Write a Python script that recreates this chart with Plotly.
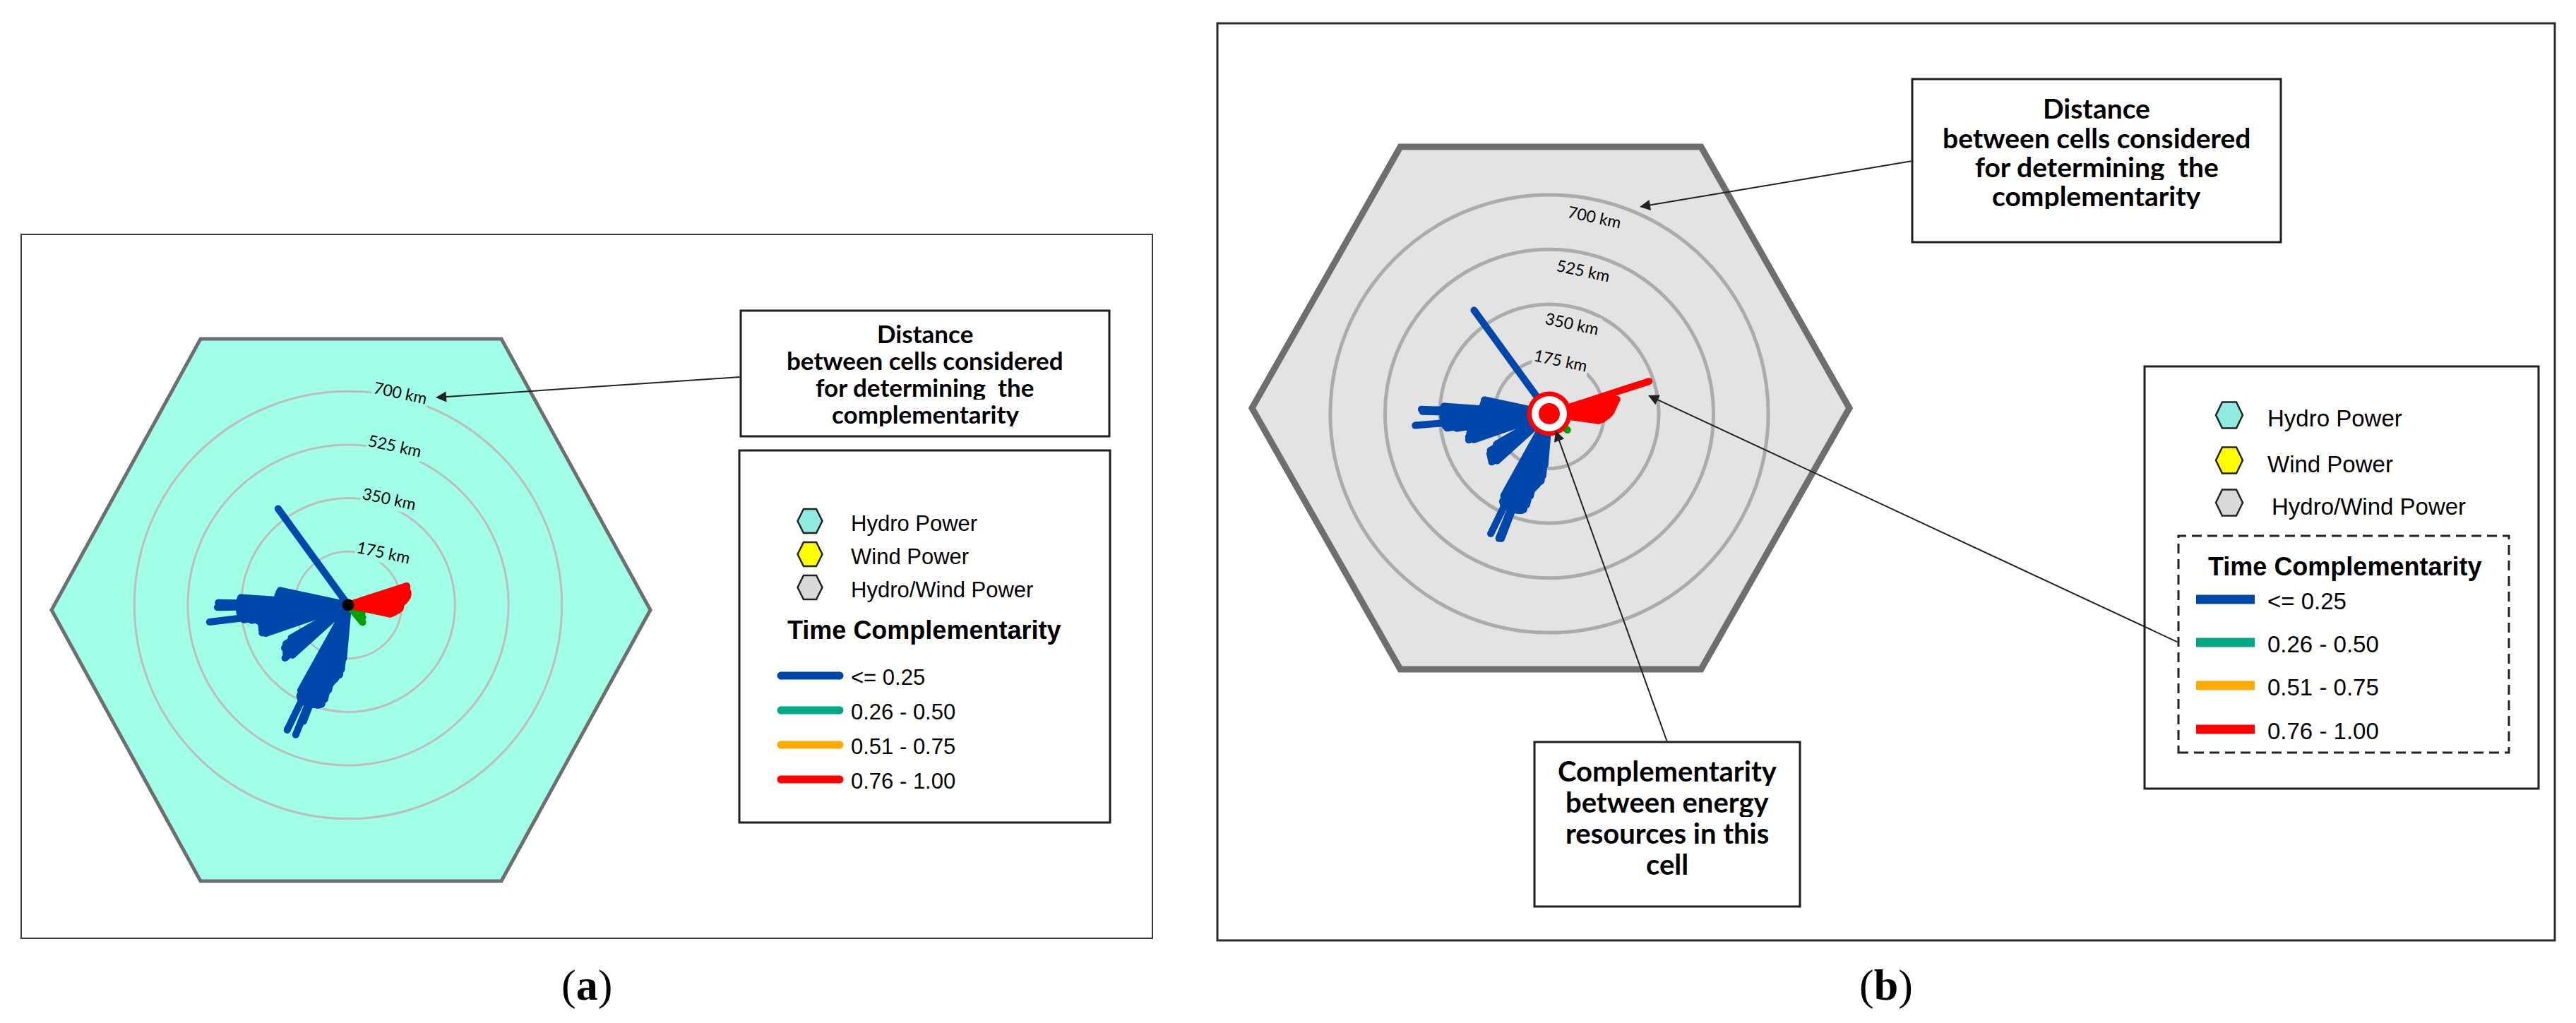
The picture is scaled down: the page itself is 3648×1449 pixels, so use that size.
import math
import plotly.graph_objects as go

W, H = 3648, 1449

# distance rings (km)
ring_km = [175, 350, 525, 700]
ring_text = ["175 km", "350 km", "525 km", "700 km"]

# spokes with time complementarity <= 0.25 (direction in degrees, distance in km)
blue_theta = [126,
              168, 170, 172, 174, 176, 177, 178, 179, 180, 181, 182, 183, 184, 185, 186, 187,
              188, 189, 190, 191, 192, 194, 196, 198, 199,
              210, 212, 214, 216, 218, 220, 222,
              241, 242, 243, 244, 245, 246, 247, 248, 249, 250, 251, 252, 253, 254, 255, 256,
              257, 258, 259, 260, 261, 262, 263, 264, 265]
blue_km_a = [390,
             228, 230, 232, 233, 352, 354, 356, 425, 356, 428, 356, 356, 356, 354, 350, 457,
             345, 320, 300, 292, 292, 292, 294, 296, 285,
             215, 240, 251, 252, 258, 270, 245,
             320, 337, 343, 455, 346, 348, 350, 458, 408, 348, 345, 344, 343, 340, 336, 318,
             286, 260, 252, 246, 238, 233, 230, 212, 175]
blue_km_b = [409,
             212, 212, 213, 215, 338, 338, 409, 405, 340, 340, 340, 338, 336, 430, 336, 334,
             330, 300, 262, 258, 258, 262, 268, 271, 255,
             195, 222, 229, 232, 236, 240, 225,
             300, 318, 324, 427, 326, 328, 330, 430, 428, 328, 326, 325, 324, 322, 318, 300,
             270, 245, 238, 232, 225, 220, 217, 200, 165]

# spokes with time complementarity 0.76 - 1.00
red_theta_a = [-12, -10, -8, -6, -4, -2, 0, 2, 4, 6, 8, 10, 12, 14, 16, 18]
red_km_a = [142, 150, 156, 164, 170, 172, 172, 176, 184, 190, 196, 199, 200, 198, 200, 202]
red_theta_b = [-8, -6, -4, -2, 0, 2, 4, 6, 8, 10, 12, 14, 16, 18]
red_km_b = [160, 171, 178, 186, 193, 198, 202, 206, 210, 215, 221, 210, 205, 335]

# short green spokes
green_theta_a = [-28, -40, -50]
green_km_a = [52, 62, 74]
green_theta_b = [-42]
green_km_b = [78]

distance_note = ["Distance", "between cells considered", "for determining&nbsp; the", "complementarity"]
cell_note = ["Complementarity", "between energy", "resources in this", "cell"]

cell_labels = ["Hydro Power", "Wind Power", "Hydro/Wind Power"]
cell_colors = ["#8FEBE0", "#FFFF00", "#D9D9D9"]
class_labels = ["&lt;= 0.25", "0.26 - 0.50", "0.51 - 0.75", "0.76 - 1.00"]
class_colors = ["#0047AB", "#00A884", "#FFAA00", "#FF0000"]

BLUE, RED, GREEN = "#0047AB", "#FF0000", "#00A000"
R_MAX = 750
A_CENTER, A_PXKM = (493, 857), 0.4325
B_CENTER, B_PXKM = (2194, 586), 0.443
A_FILL, B_FILL = "#A0FFE6", "#E3E3E3"


def X(px):
    return px / W


def Y(py):
    return 1 - py / H


def domain(center, pxkm):
    half = R_MAX * pxkm
    cx, cy = center
    return dict(x=[X(cx - half), X(cx + half)], y=[Y(cy + half), Y(cy - half)])


def polar_layout(center, pxkm, gridcolor, gridwidth):
    return dict(
        domain=domain(center, pxkm),
        bgcolor="rgba(0,0,0,0)",
        radialaxis=dict(range=[0, R_MAX], tickvals=ring_km, showticklabels=False, ticks="",
                        showline=False, gridcolor=gridcolor, gridwidth=gridwidth),
        angularaxis=dict(showgrid=False, showline=False, showticklabels=False, ticks="",
                         rotation=0, direction="counterclockwise"),
    )


def spokes(theta, km, color, subplot, width=10):
    r, t = [], []
    for a, d in zip(theta, km):
        r += [0, d, None]
        t += [a, a, None]
    return [
        go.Scatterpolar(r=r, theta=t, mode="lines", line=dict(color=color, width=width),
                        subplot=subplot, hoverinfo="skip"),
        go.Scatterpolar(r=km, theta=theta, mode="markers",
                        marker=dict(color=color, size=width, opacity=1, line=dict(width=0)),
                        subplot=subplot, hoverinfo="skip"),
    ]


def dot(size, color, subplot):
    return go.Scatterpolar(r=[0], theta=[0], mode="markers",
                           marker=dict(size=size, color=color, opacity=1, line=dict(width=0)),
                           subplot=subplot, hoverinfo="skip")


def hexagon(cx, cy, hw, hh, edge):
    pts = [(cx - hw, cy), (cx - edge, cy - hh), (cx + edge, cy - hh),
           (cx + hw, cy), (cx + edge, cy + hh), (cx - edge, cy + hh)]
    return "M " + " L ".join(f"{X(x):.5f},{Y(y):.5f}" for x, y in pts) + " Z"


def hex_shape(cx, cy, hw, hh, edge, fill, line, lw):
    return dict(type="path", xref="paper", yref="paper", path=hexagon(cx, cy, hw, hh, edge),
                fillcolor=fill, line=dict(color=line, width=lw), layer="below")


def rect(x0, y0, x1, y1, color="#1E1E1E", width=3, dash=None, fill="rgba(0,0,0,0)"):
    return dict(type="rect", xref="paper", yref="paper", x0=X(x0), x1=X(x1), y0=Y(y1), y1=Y(y0),
                line=dict(color=color, width=width, dash=dash), fillcolor=fill, layer="below")


def hline(x0, x1, y, color, width):
    return dict(type="line", xref="paper", yref="paper", x0=X(x0), x1=X(x1), y0=Y(y), y1=Y(y),
                line=dict(color=color, width=width), layer="below")


def cap(x, y, d, color):
    return dict(type="circle", xref="paper", yref="paper", x0=X(x - d / 2), x1=X(x + d / 2),
                y0=Y(y + d / 2), y1=Y(y - d / 2), fillcolor=color, line=dict(width=0), layer="below")


def text(x, y, s, size, family="Liberation Sans", xanchor="left", color="black", **kw):
    return dict(x=X(x), y=Y(y), xref="paper", yref="paper", text=s, showarrow=False,
                xanchor=xanchor, yanchor="middle", font=dict(family=family, size=size, color=color), **kw)


def note(cx, y0, step, lines, size):
    return [text(cx, y0 + i * step, f"<b>{s}</b>", size, family="Lato", xanchor="center",
                 height=step - 2, valign="middle")
            for i, s in enumerate(lines)]


def arrow(tip, tail):
    return dict(x=X(tip[0]), y=Y(tip[1]), xref="paper", yref="paper",
                ax=tail[0] - tip[0], ay=tail[1] - tip[1], text="", showarrow=True,
                arrowhead=2, arrowsize=1.5, arrowwidth=2, arrowcolor="#222222")


def ring_labels(center, pxkm, bg, ang):
    cx, cy = center
    out = []
    for km, txt in zip(ring_km, ring_text):
        px = cx + km * pxkm * math.cos(math.radians(ang))
        py = cy - km * pxkm * math.sin(math.radians(ang))
        out.append(dict(x=X(px), y=Y(py), xref="paper", yref="paper", text=txt, showarrow=False,
                        textangle=12, font=dict(family="Lato", size=23, color="black"),
                        bgcolor=bg, borderpad=1))
    return out


fig = go.Figure()

# panel (a)
for tr in spokes(blue_theta, blue_km_a, BLUE, "polar"):
    fig.add_trace(tr)
for tr in spokes(green_theta_a, green_km_a, GREEN, "polar"):
    fig.add_trace(tr)
for tr in spokes(red_theta_a, red_km_a, RED, "polar"):
    fig.add_trace(tr)
fig.add_trace(dot(17, "black", "polar"))

# panel (b)
for tr in spokes(blue_theta, blue_km_b, BLUE, "polar2"):
    fig.add_trace(tr)
for tr in spokes(green_theta_b, green_km_b, GREEN, "polar2"):
    fig.add_trace(tr)
for tr in spokes(red_theta_b, red_km_b, RED, "polar2"):
    fig.add_trace(tr)
fig.add_trace(dot(63, RED, "polar2"))
fig.add_trace(dot(50, "#FFFFFF", "polar2"))
fig.add_trace(dot(30, RED, "polar2"))

shapes = [
    rect(30, 332, 1632, 1329, color="#3A3A3A", width=2),
    rect(1724, 33, 3618, 1332, color="#2A2A2A", width=3),
    hex_shape(497, 864, 424, 384, 213, A_FILL, "#6E6E6E", 5),
    hex_shape(2196, 578, 423, 370, 213, B_FILL, "#6E6E6E", 9),
    rect(1049, 440, 1571, 618, fill="white"),
    rect(1047, 638, 1572, 1165, fill="white"),
    rect(2708, 112, 3230, 343, fill="white"),
    rect(2173, 1051, 2549, 1284, fill="white"),
    rect(3037, 519, 3595, 1117, fill="white"),
    rect(3085, 759, 3553, 1066, color="#222222", width=3, dash="14px,8px"),
]

ann = []
ann += ring_labels(A_CENTER, A_PXKM, A_FILL, 84)
ann += ring_labels(B_CENTER, B_PXKM, B_FILL, 78)

ann += note(1310, 472, 38, distance_note, 35)
ann += note(2969, 153, 41, distance_note, 39)
ann += note(2361, 1092, 44, cell_note, 40)

# legend (a)
for lbl, col, y in zip(cell_labels, cell_colors, [738, 785, 832]):
    shapes.append(hex_shape(1147, y, 17.5, 17, 9, col, "#222222", 2.5))
    ann.append(text(1203, y + 3, lbl, 31))
ann.append(text(1308, 892, "<b>Time Complementarity</b>", 36, xanchor="center"))
for lbl, col, y in zip(class_labels, class_colors, [957, 1006, 1055, 1104]):
    shapes.append(hline(1106, 1189, y, col, 11))
    shapes.append(cap(1106, y, 11, col))
    shapes.append(cap(1189, y, 11, col))
    ann.append(text(1203, y + 2, lbl, 31))

# legend (b)
for lbl, col, y, tx in zip(cell_labels, cell_colors, [588, 652, 712], [3209, 3209, 3215]):
    shapes.append(hex_shape(3157, y, 19, 18.5, 10, col, "#222222", 2.5))
    ann.append(text(tx, y + 5, lbl, 33))
ann.append(text(3320, 802, "<b>Time Complementarity</b>", 36, xanchor="center"))
for lbl, col, y in zip(class_labels, class_colors, [849, 910, 971, 1033]):
    shapes.append(hline(3110, 3193, y, col, 13))
    ann.append(text(3209, y + 2, lbl, 33))

# arrows
ann.append(arrow((617, 563), (1049, 534)))
ann.append(arrow((2322, 293), (2708, 228)))
ann.append(arrow((2334, 560), (3085, 910)))
ann.append(arrow((2203, 610), (2361, 1051)))

# panel letters
ann.append(text(831, 1395, "(<b>a</b>)", 62, family="Liberation Serif", xanchor="center"))
ann.append(text(2671, 1395, "(<b>b</b>)", 62, family="Liberation Serif", xanchor="center"))

fig.update_layout(
    width=W, height=H,
    margin=dict(l=0, r=0, t=0, b=0),
    paper_bgcolor="white",
    showlegend=False,
    polar=polar_layout(A_CENTER, A_PXKM, "#BDBDBD", 2.5),
    polar2=polar_layout(B_CENTER, B_PXKM, "#ABABAB", 4.5),
    shapes=shapes,
    annotations=ann,
)

fig.write_html("out.html", config={"displayModeBar": False},
               post_script="document.body.style.margin='0';")
